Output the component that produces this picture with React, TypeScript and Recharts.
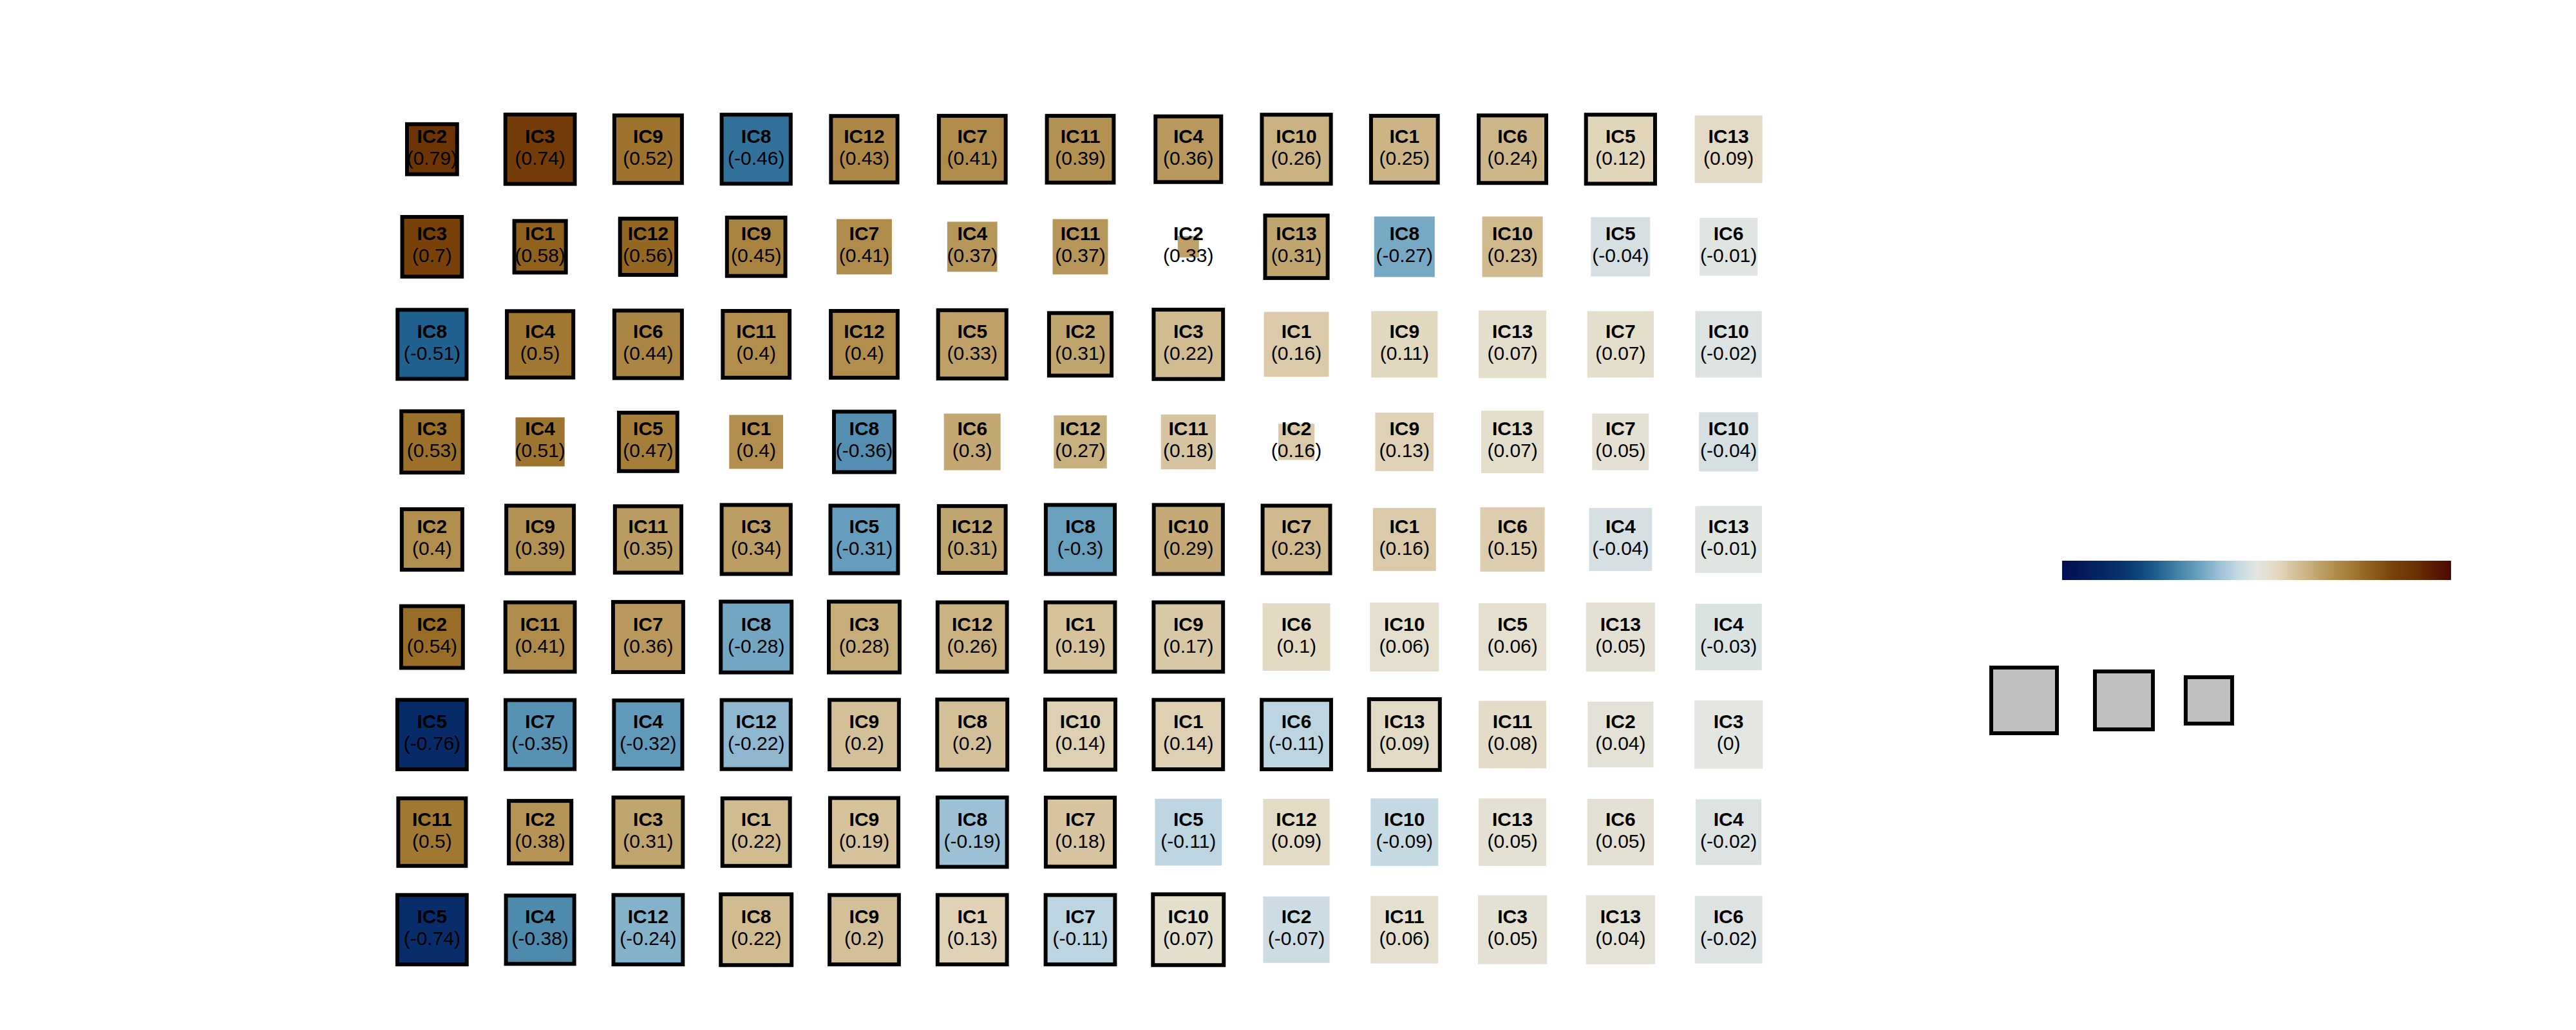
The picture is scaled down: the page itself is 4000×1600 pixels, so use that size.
import { ScatterChart, Scatter, XAxis, YAxis, ZAxis, Customized } from "recharts"

// component shown in each cell, row by row
const labels = [
  ["IC2", "IC3", "IC9", "IC8", "IC12", "IC7", "IC11", "IC4", "IC10", "IC1", "IC6", "IC5", "IC13"],
  ["IC3", "IC1", "IC12", "IC9", "IC7", "IC4", "IC11", "IC2", "IC13", "IC8", "IC10", "IC5", "IC6"],
  ["IC8", "IC4", "IC6", "IC11", "IC12", "IC5", "IC2", "IC3", "IC1", "IC9", "IC13", "IC7", "IC10"],
  ["IC3", "IC4", "IC5", "IC1", "IC8", "IC6", "IC12", "IC11", "IC2", "IC9", "IC13", "IC7", "IC10"],
  ["IC2", "IC9", "IC11", "IC3", "IC5", "IC12", "IC8", "IC10", "IC7", "IC1", "IC6", "IC4", "IC13"],
  ["IC2", "IC11", "IC7", "IC8", "IC3", "IC12", "IC1", "IC9", "IC6", "IC10", "IC5", "IC13", "IC4"],
  ["IC5", "IC7", "IC4", "IC12", "IC9", "IC8", "IC10", "IC1", "IC6", "IC13", "IC11", "IC2", "IC3"],
  ["IC11", "IC2", "IC3", "IC1", "IC9", "IC8", "IC7", "IC5", "IC12", "IC10", "IC13", "IC6", "IC4"],
  ["IC5", "IC4", "IC12", "IC8", "IC9", "IC1", "IC7", "IC10", "IC2", "IC11", "IC3", "IC13", "IC6"],
]

// loading value (colour)
const loadings = [
  [0.79, 0.74, 0.52, -0.46, 0.43, 0.41, 0.39, 0.36, 0.26, 0.25, 0.24, 0.12, 0.09],
  [0.7, 0.58, 0.56, 0.45, 0.41, 0.37, 0.37, 0.33, 0.31, -0.27, 0.23, -0.04, -0.01],
  [-0.51, 0.5, 0.44, 0.4, 0.4, 0.33, 0.31, 0.22, 0.16, 0.11, 0.07, 0.07, -0.02],
  [0.53, 0.51, 0.47, 0.4, -0.36, 0.3, 0.27, 0.18, 0.16, 0.13, 0.07, 0.05, -0.04],
  [0.4, 0.39, 0.35, 0.34, -0.31, 0.31, -0.3, 0.29, 0.23, 0.16, 0.15, -0.04, -0.01],
  [0.54, 0.41, 0.36, -0.28, 0.28, 0.26, 0.19, 0.17, 0.1, 0.06, 0.06, 0.05, -0.03],
  [-0.76, -0.35, -0.32, -0.22, 0.2, 0.2, 0.14, 0.14, -0.11, 0.09, 0.08, 0.04, 0],
  [0.5, 0.38, 0.31, 0.22, 0.19, -0.19, 0.18, -0.11, 0.09, -0.09, 0.05, 0.05, -0.02],
  [-0.74, -0.38, -0.24, 0.22, 0.2, 0.13, -0.11, 0.07, -0.07, 0.06, 0.05, 0.04, -0.02],
]

// relative weight (marker area)
const weights = [
  [0.5, 0.96, 0.91, 0.95, 0.88, 0.89, 0.89, 0.86, 0.95, 0.89, 0.91, 0.95, 0.91],
  [0.71, 0.53, 0.63, 0.68, 0.61, 0.5, 0.61, 0.09, 0.78, 0.73, 0.73, 0.7, 0.67],
  [0.95, 0.88, 0.91, 0.89, 0.89, 0.93, 0.78, 0.96, 0.84, 0.88, 0.91, 0.88, 0.88],
  [0.75, 0.48, 0.68, 0.58, 0.73, 0.64, 0.56, 0.6, 0.26, 0.68, 0.78, 0.64, 0.7],
  [0.73, 0.91, 0.88, 0.95, 0.91, 0.89, 0.95, 0.95, 0.91, 0.79, 0.83, 0.79, 0.89],
  [0.76, 0.96, 0.98, 1.0, 1.0, 0.96, 0.96, 0.96, 0.91, 0.95, 0.91, 0.95, 0.88],
  [0.96, 0.95, 0.93, 0.95, 0.96, 0.98, 0.98, 0.96, 0.96, 1.0, 0.91, 0.86, 0.93],
  [0.91, 0.78, 0.96, 0.91, 0.93, 0.96, 0.95, 0.89, 0.88, 0.91, 0.91, 0.88, 0.86],
  [0.96, 0.93, 0.96, 1.0, 0.96, 0.96, 0.96, 1.0, 0.88, 0.91, 0.95, 0.95, 0.91],
]

// 1 = significant (outlined)
const significant = [
  [1, 1, 1, 1, 1, 1, 1, 1, 1, 1, 1, 1, 0],
  [1, 1, 1, 1, 0, 0, 0, 0, 1, 0, 0, 0, 0],
  [1, 1, 1, 1, 1, 1, 1, 1, 0, 0, 0, 0, 0],
  [1, 0, 1, 0, 1, 0, 0, 0, 0, 0, 0, 0, 0],
  [1, 1, 1, 1, 1, 1, 1, 1, 1, 0, 0, 0, 0],
  [1, 1, 1, 1, 1, 1, 1, 1, 0, 0, 0, 0, 0],
  [1, 1, 1, 1, 1, 1, 1, 1, 1, 1, 0, 0, 0],
  [1, 1, 1, 1, 1, 1, 1, 0, 0, 0, 0, 0, 0],
  [1, 1, 1, 1, 1, 1, 1, 1, 0, 0, 0, 0, 0],
]

const legendWeights = [0.86, 0.67, 0.43]

// blue - white - brown diverging map, value -> rgb
const cmap: [number, number, number, number][] = [
  [-1, 0, 15, 80],
  [-0.9, 2, 25, 90],
  [-0.8, 5, 38, 100],
  [-0.7, 10, 50, 110],
  [-0.6, 15, 70, 125],
  [-0.5, 35, 100, 145],
  [-0.4, 70, 132, 168],
  [-0.3, 105, 160, 190],
  [-0.2, 152, 190, 212],
  [-0.1, 193, 216, 226],
  [0, 228, 230, 226],
  [0.1, 228, 218, 195],
  [0.2, 212, 192, 152],
  [0.3, 195, 168, 115],
  [0.4, 177, 142, 78],
  [0.5, 160, 120, 50],
  [0.6, 140, 92, 25],
  [0.7, 120, 65, 10],
  [0.8, 108, 52, 4],
  [0.9, 92, 30, 2],
  [1, 75, 10, 0],
]

function colorFor(v: number) {
  const c = Math.max(-1, Math.min(1, v))
  for (let i = 0; i < cmap.length - 1; i++) {
    const a = cmap[i]
    const b = cmap[i + 1]
    if (c >= a[0] && c <= b[0]) {
      const t = (c - a[0]) / (b[0] - a[0])
      const ch = (k: number) => Math.round(a[k] + (b[k] - a[k]) * t)
      return `rgb(${ch(1)},${ch(2)},${ch(3)})`
    }
  }
  return "rgb(228,230,226)"
}

const MAX_SIDE = 110
const FONT = "'Liberation Sans', Arial, sans-serif"

const cells = labels.flatMap((row, r) =>
  row.map((label, c) => ({
    x: c + 0.5,
    y: r + 0.5,
    z: weights[r][c],
    label,
    value: loadings[r][c],
    border: significant[r][c] === 1,
  }))
)

function CellShape(props: any) {
  const { cx, cy, payload } = props
  const side = props.width ?? 2 * Math.sqrt(props.size / Math.PI)
  return (
    <g>
      <rect
        x={cx - side / 2}
        y={cy - side / 2}
        width={side}
        height={side}
        fill={colorFor(payload.value)}
        stroke={payload.border ? "#000" : "none"}
        strokeWidth={payload.border ? 6 : 0}
      />
      <text x={cx} y={cy - 10} textAnchor="middle" fontFamily={FONT} fontSize={30} fontWeight="bold" fill="#000">
        {payload.label}
      </text>
      <text x={cx} y={cy + 24} textAnchor="middle" fontFamily={FONT} fontSize={30} fill="#000">
        ({String(payload.value)})
      </text>
    </g>
  )
}

function Extras() {
  const stops = Array.from({ length: 41 }, (_, i) => i / 40)
  const legendX = [3143, 3298, 3430]
  return (
    <g>
      <defs>
        <linearGradient id="cbar" x1="0" x2="1" y1="0" y2="0">
          {stops.map((t) => (
            <stop key={t} offset={t} stopColor={colorFor(-1 + 2 * t)} />
          ))}
        </linearGradient>
      </defs>
      <rect x={3202} y={871} width={604} height={30} fill="url(#cbar)" />
      {legendWeights.map((w, i) => {
        const side = MAX_SIDE * Math.sqrt(w)
        return (
          <rect
            key={i}
            x={legendX[i] - side / 2}
            y={1088 - side / 2}
            width={side}
            height={side}
            fill="#c0c0c0"
            stroke="#000"
            strokeWidth={6}
          />
        )
      })}
    </g>
  )
}

export default function App() {
  return (
    <div style={{ position: "absolute", left: 0, top: 0, width: 4000, height: 1600, background: "#fff" }}>
      <ScatterChart width={4000} height={1600} margin={{ top: 156, right: 1232, bottom: 80, left: 587 }}>
        <XAxis type="number" dataKey="x" domain={[0, 13]} hide />
        <YAxis type="number" dataKey="y" domain={[0, 9]} reversed hide />
        <ZAxis type="number" dataKey="z" domain={[0, 1]} range={[0, Math.PI * (MAX_SIDE / 2) ** 2]} />
        <Scatter data={cells} shape={CellShape} isAnimationActive={false} />
        <Customized component={Extras} />
      </ScatterChart>
    </div>
  )
}
